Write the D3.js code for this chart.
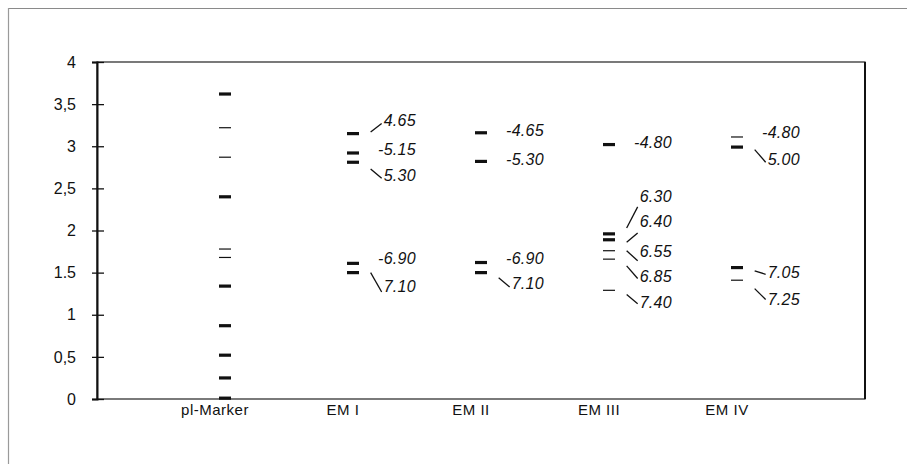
<!DOCTYPE html>
<html>
<head>
<meta charset="utf-8">
<script src="https://cdn.jsdelivr.net/npm/d3@7"></script>
<style>
  body { margin: 0; background: #fff; }
  svg { display: block; }
</style>
</head>
<body>
<div id="chart"></div>
<script>
// lanes on the gel
var categories = ["pl-Marker", "EM I", "EM II", "EM III", "EM IV"];

// band positions per lane (axis units) and staining: 2 strong, 1 weak
var bandValues = [
  [3.62, 3.22, 2.87, 2.40, 1.78, 1.68, 1.34, 0.87, 0.52, 0.25, 0.01],
  [3.15, 2.92, 2.81, 1.61, 1.50],
  [3.16, 2.82, 1.62, 1.50],
  [3.02, 1.96, 1.89, 1.76, 1.66, 1.29],
  [3.11, 2.99, 1.56, 1.41]
];
var bandIntensity = [
  [2, 1, 1, 2, 1, 1, 2, 2, 2, 2, 2],
  [2, 2, 2, 2, 2],
  [2, 2, 2, 2],
  [2, 2, 2, 1, 1, 1],
  [1, 2, 2, 1]
];

// pI annotations per lane, their level, and where the pointer line runs (null = none)
var labelText = [
  [],
  ["4.65", "-5.15", "5.30", "-6.90", "7.10"],
  ["-4.65", "-5.30", "-6.90", "7.10"],
  ["-4.80", "6.30", "6.40", "6.55", "6.85", "7.40"],
  ["-4.80", "5.00", "7.05", "7.25"]
];
var labelValue = [
  [],
  [3.31, 2.97, 2.65, 1.67, 1.34],
  [3.19, 2.84, 1.67, 1.37],
  [3.05, 2.41, 2.11, 1.75, 1.46, 1.15],
  [3.17, 2.84, 1.51, 1.19]
];
var leaderFrom = [
  [],
  [3.17, null, 2.73, null, 1.50],
  [null, null, null, 1.44],
  [null, 2.03, 1.86, 1.76, 1.58, 1.24],
  [null, 2.96, 1.52, 1.31]
];
var leaderTo = [
  [],
  [3.27, null, 2.62, null, 1.27],
  [null, null, null, 1.33],
  [null, 2.28, 1.97, 1.64, 1.43, 1.13],
  [null, 2.81, 1.48, 1.18]
];

var yTicks = [0, 0.5, 1, 1.5, 2, 2.5, 3, 3.5, 4];
var yTickLabels = ["0", "0,5", "1", "1.5", "2", "2,5", "3", "3,5", "4"];

var width = 907, height = 464;
var margin = {top: 62, right: 42, bottom: 65, left: 97};

var svg = d3.select("#chart").append("svg")
  .attr("width", width)
  .attr("height", height);

// outer frame of the scanned figure
svg.append("line")
  .attr("x1", 8).attr("x2", width).attr("y1", 8.5).attr("y2", 8.5)
  .attr("stroke", "#8a8a8a").attr("stroke-width", 1.2);
svg.append("line")
  .attr("x1", 8.5).attr("x2", 8.5).attr("y1", 8).attr("y2", height)
  .attr("stroke", "#9a9a9a").attr("stroke-width", 1.2);

var x = d3.scalePoint()
  .domain(categories)
  .range([margin.left, width - margin.right])
  .padding(1);

var y = d3.scaleLinear()
  .domain([0, 4])
  .range([height - margin.bottom, margin.top]);

// plot frame
svg.append("rect")
  .attr("x", margin.left).attr("y", margin.top)
  .attr("width", width - margin.left - margin.right)
  .attr("height", height - margin.top - margin.bottom)
  .attr("fill", "none")
  .attr("stroke", "#222")
  .attr("stroke-width", 1.2);
svg.append("line")
  .attr("x1", width - margin.right).attr("x2", width - margin.right)
  .attr("y1", margin.top).attr("y2", height - margin.bottom)
  .attr("stroke", "#111").attr("stroke-width", 2);

// y axis
var yAxis = svg.append("g")
  .attr("transform", "translate(" + margin.left + ",0)")
  .call(d3.axisLeft(y)
    .tickValues(yTicks)
    .tickFormat(function(d, i) { return yTickLabels[i]; })
    .tickSize(5)
    .tickPadding(16));
yAxis.select(".domain").attr("stroke", "#111").attr("stroke-width", 2);
yAxis.selectAll(".tick line").attr("x1", 7).attr("stroke", "#111").attr("stroke-width", 1.3);
yAxis.selectAll(".tick text")
  .attr("font-family", "'Liberation Sans', Arial, sans-serif")
  .attr("font-size", 16)
  .attr("fill", "#111");

// lane names
svg.append("g")
  .selectAll("text")
  .data(categories)
  .enter().append("text")
  .attr("x", function(d) { return x(d) - 10; })
  .attr("y", height - margin.bottom + 16)
  .attr("text-anchor", "middle")
  .attr("font-family", "'Liberation Sans', Arial, sans-serif")
  .attr("font-size", 15)
  .attr("letter-spacing", 0.5)
  .attr("fill", "#111")
  .text(function(d) { return d; });

// bands
var bands = [];
categories.forEach(function(c, i) {
  bandValues[i].forEach(function(v, j) {
    bands.push({lane: c, value: v, intensity: bandIntensity[i][j]});
  });
});
svg.append("g")
  .selectAll("line")
  .data(bands)
  .enter().append("line")
  .attr("x1", function(d) { return x(d.lane) - 6; })
  .attr("x2", function(d) { return x(d.lane) + 6; })
  .attr("y1", function(d) { return y(d.value); })
  .attr("y2", function(d) { return y(d.value); })
  .attr("stroke", "#111")
  .attr("stroke-width", function(d) { return d.intensity == 2 ? 3.2 : 1.2; });

// pI labels with pointer lines
var labels = [];
categories.forEach(function(c, i) {
  labelText[i].forEach(function(t, j) {
    labels.push({lane: c, text: t, value: labelValue[i][j],
      from: leaderFrom[i][j], to: leaderTo[i][j]});
  });
});
var lg = svg.append("g");
labels.forEach(function(d) {
  var right = x(d.lane) + 63;
  var t = lg.append("text")
    .attr("x", right)
    .attr("y", y(d.value))
    .attr("dy", "0.36em")
    .attr("text-anchor", "end")
    .attr("font-family", "'Liberation Sans', Arial, sans-serif")
    .attr("font-style", "italic")
    .attr("font-size", 16)
    .attr("letter-spacing", 0.3)
    .attr("fill", "#111")
    .text(d.text);
  if (d.from != null) {
    var left = right - t.node().getComputedTextLength();
    lg.append("line")
      .attr("x1", left - 13).attr("x2", left - 2)
      .attr("y1", y(d.from)).attr("y2", y(d.to))
      .attr("stroke", "#111")
      .attr("stroke-width", 1.3);
  }
});
</script>
</body>
</html>
